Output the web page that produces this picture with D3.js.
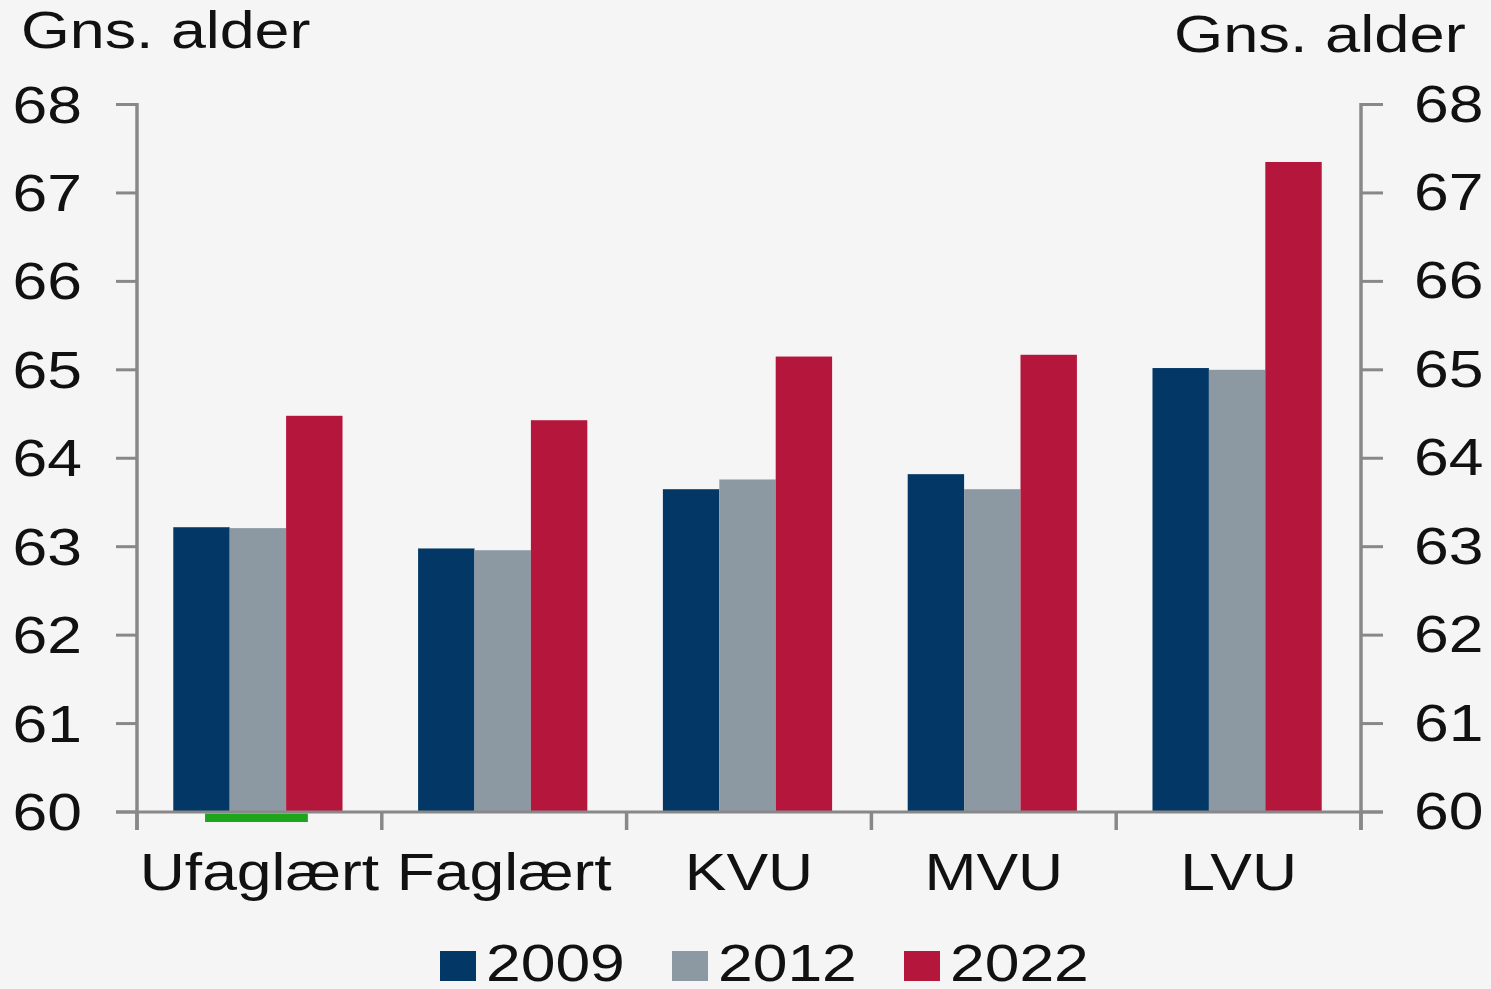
<!DOCTYPE html>
<html>
<head>
<meta charset="utf-8">
<script src="https://cdn.jsdelivr.net/npm/d3@7/dist/d3.min.js"></script>
<style>
  body { margin: 0; background: #f5f5f5; }
  svg { display: block; }
  text { font-family: "Liberation Sans", Arial, sans-serif; fill: #111; }
</style>
</head>
<body>
<svg id="chart" width="1491" height="989"></svg>
<script>
// data
const categories = ['Ufaglært', 'Faglært', 'KVU', 'MVU', 'LVU'];
const years = ['2009', '2012', '2022'];
const values2009 = [63.22, 62.98, 63.65, 63.82, 65.02];
const values2012 = [63.21, 62.96, 63.76, 63.65, 65.00];
const values2022 = [64.48, 64.43, 65.15, 65.17, 67.35];
const yTicks = [60, 61, 62, 63, 64, 65, 66, 67, 68];
const axisTitle = 'Gns. alder';

const colors = { '2009': '#023766', '2012': '#8d99a2', '2022': '#b5163c' };
const series = [values2009, values2012, values2022];

const svg = d3.select('#chart');
const plotLeft = 137, plotRight = 1361, plotTop = 104.5, plotBottom = 812;
const stretch = 1.2; // the original text is drawn wide
const fontSize = 52;
const axisColor = '#888888';

const x = d3.scaleBand().domain(categories).range([plotLeft, plotRight]);
const xInner = d3.scaleBand().domain(years).range([0, x.bandwidth()]).paddingOuter(0.67);
const y = d3.scaleLinear().domain([60, 68]).range([plotBottom, plotTop]);

// helper for stretched text
function label(g, tx, ty, str, anchor, size, sx) {
  g.append('g')
    .attr('transform', `translate(${tx},${ty}) scale(${sx || stretch},1)`)
    .append('text')
    .attr('text-anchor', anchor)
    .style('font-size', (size || fontSize) + 'px')
    .text(str);
}

// bars
const groups = svg.append('g').selectAll('g')
  .data(categories)
  .enter().append('g')
  .attr('transform', d => `translate(${x(d) - 1.5},0)`);

groups.selectAll('rect')
  .data((d, i) => years.map((yr, j) => ({ year: yr, value: series[j][i] })))
  .enter().append('rect')
  .attr('x', d => xInner(d.year))
  .attr('width', xInner.bandwidth())
  .attr('y', d => y(d.value))
  .attr('height', d => y(60) - y(d.value) - 1)
  .attr('fill', d => colors[d.year]);

// green marker under first category
svg.append('rect')
  .attr('x', x(categories[0]) + x.bandwidth() * 0.278)
  .attr('width', x.bandwidth() * 0.42)
  .attr('y', plotBottom + 1.5)
  .attr('height', 8.5)
  .attr('fill', '#1ea51e');

const axes = svg.append('g').attr('stroke', axisColor);

// vertical axis lines
[plotLeft, plotRight].forEach(xx => {
  axes.append('line')
    .attr('x1', xx).attr('x2', xx)
    .attr('y1', plotTop - 1.5).attr('y2', plotBottom + 18)
    .attr('stroke-width', 3.5);
});

// y ticks both sides
yTicks.forEach(t => {
  axes.append('line')
    .attr('x1', plotLeft - 21).attr('x2', plotLeft)
    .attr('y1', y(t)).attr('y2', y(t))
    .attr('stroke-width', 3);
  axes.append('line')
    .attr('x1', plotRight).attr('x2', plotRight + 22)
    .attr('y1', y(t)).attr('y2', y(t))
    .attr('stroke-width', 3);
});

// baseline
axes.append('line')
  .attr('x1', plotLeft - 21).attr('x2', plotRight + 22)
  .attr('y1', plotBottom).attr('y2', plotBottom)
  .attr('stroke-width', 3);

// category boundary ticks
d3.range(categories.length + 1).forEach(i => {
  const xx = plotLeft + i * x.step();
  axes.append('line')
    .attr('x1', xx).attr('x2', xx)
    .attr('y1', plotBottom).attr('y2', plotBottom + 18)
    .attr('stroke-width', 3.5);
});

const textLayer = svg.append('g');

// tick labels
yTicks.forEach(t => {
  label(textLayer, 82, y(t) + 18, String(t), 'end');
  label(textLayer, 1414, y(t) + 17, String(t), 'start');
});

// axis titles
label(textLayer, 21, 48, axisTitle, 'start', 51, 1.23);
label(textLayer, 1174, 52, axisTitle, 'start', 51, 1.24);

// category labels
categories.forEach(c => {
  label(textLayer, x(c) + x.bandwidth() / 2, 890, c, 'middle');
});

// legend
const legendX = 440, legendStep = 232;
years.forEach((yr, i) => {
  const lx = legendX + i * legendStep;
  svg.append('rect')
    .attr('x', lx).attr('y', 951)
    .attr('width', 36).attr('height', 30)
    .attr('fill', colors[yr]);
  label(textLayer, lx + 46, 981, yr, 'start');
});
</script>
</body>
</html>
